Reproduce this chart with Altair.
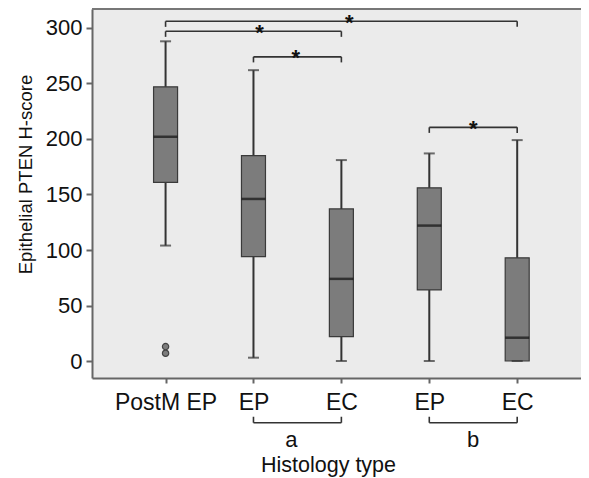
import altair as alt
import pandas as pd

# ---- data ----
positions = [0, 1, 2, 3, 4]
tick_labels = ["PostM EP", "EP", "EC", "EP", "EC"]
whisker_low = [104, 3, 0, 0, 0]
q1 = [161, 94, 22, 64, 0]
median = [202, 146, 74, 122, 21]
q3 = [247, 185, 137, 156, 93]
whisker_high = [288, 262, 181, 187, 199]

outlier_pos = [0, 0]
outlier_val = [13, 7]

# significance brackets: start, end, height, star position
br_start = [0, 0, 1, 3]
br_end = [4, 2, 2, 4]
br_y = [306, 297, 274, 210.5]
br_star_x = [2.09, 1.07, 1.48, 3.5]

# grouping brackets below the axis
grp_start = [1, 3]
grp_end = [2, 4]
grp_label = ["a", "b"]
grp_label_x = [1.43, 3.5]

y_ticks = [0, 50, 100, 150, 200, 250, 300]

FONT = "Liberation Sans"
XDOM = [-0.78, 4.669]
YDOM = [-15.3, 317.1]

box_df = pd.DataFrame(dict(pos=positions, lo=whisker_low, q1=q1, med=median,
                           q3=q3, hi=whisker_high))
out_df = pd.DataFrame(dict(pos=outlier_pos, val=outlier_val))
br_df = pd.DataFrame(dict(x1=br_start, x2=br_end, y=br_y, sx=br_star_x))
br_df["ys"] = br_df["y"] - 7.7
br_df["star"] = "*"
br_ends = pd.DataFrame(dict(
    x=br_start + br_end,
    y=br_y + br_y,
))
br_ends["y2"] = br_ends["y"] - 5

grp_y = -55.6
grp_df = pd.DataFrame(dict(x1=grp_start, x2=grp_end, lab=grp_label, lx=grp_label_x))
grp_df["y"] = grp_y
grp_df["ly"] = grp_y - 15.5
grp_ends = pd.DataFrame(dict(x=grp_start + grp_end))
grp_ends["y"] = grp_y
grp_ends["y2"] = grp_y + 5.4

label_expr = "[" + ",".join("'%s'" % s for s in tick_labels) + "][datum.value]"

xscale = alt.Scale(domain=XDOM, nice=False, zero=False)
yscale = alt.Scale(domain=YDOM, nice=False, zero=False)

xaxis = alt.Axis(values=positions, labelExpr=label_expr, title="Histology type",
                 titleX=236, titleY=87, titleBaseline="middle", titleFontSize=21.5,
                 titleFontWeight="normal", labelFontSize=23, tickSize=5,
                 labelPadding=19, labelBaseline="middle", labelFlush=False,
                 labelOverlap=False, labelAngle=0, grid=False,
                 domainColor="#666666", domainWidth=2, tickColor="#666666",
                 tickWidth=2, labelColor="#111111", titleColor="#111111")
yaxis = alt.Axis(values=y_ticks, format="d", title="Epithelial PTEN H-score",
                 titleX=-67, titleY=165, titleBaseline="middle", titleAngle=270,
                 titleFontSize=18.5, titleFontWeight="normal", labelFontSize=22,
                 tickSize=6, labelPadding=4, grid=False, domainColor="#666666",
                 domainWidth=2, tickColor="#666666", tickWidth=2,
                 labelColor="#111111", titleColor="#111111")

base = alt.Chart(box_df)

whiskers = base.mark_rule(color="#333333", strokeWidth=2).encode(
    x=alt.X("pos:Q", scale=xscale, axis=xaxis),
    y=alt.Y("lo:Q", scale=yscale, axis=yaxis),
    y2="hi:Q",
)
boxes = base.mark_bar(size=24, color="#7c7c7c", stroke="#3a3a3a",
                      strokeWidth=1.2).encode(
    x=alt.X("pos:Q", scale=xscale), y=alt.Y("q1:Q", scale=yscale), y2="q3:Q")
medians = base.mark_tick(orient="horizontal", size=24, thickness=2.5,
                         color="#111111").encode(
    x=alt.X("pos:Q", scale=xscale), y=alt.Y("med:Q", scale=yscale))
caps_hi = base.mark_tick(orient="horizontal", size=11, thickness=2,
                         color="#333333").encode(
    x=alt.X("pos:Q", scale=xscale), y=alt.Y("hi:Q", scale=yscale))
caps_lo = base.mark_tick(orient="horizontal", size=11, thickness=2,
                         color="#333333").encode(
    x=alt.X("pos:Q", scale=xscale), y=alt.Y("lo:Q", scale=yscale))
outliers = alt.Chart(out_df).mark_point(filled=True, size=40, fill="#7c7c7c",
                                        stroke="#444444", strokeWidth=1.2,
                                        opacity=1).encode(
    x=alt.X("pos:Q", scale=xscale), y=alt.Y("val:Q", scale=yscale))

br_lines = alt.Chart(br_df).mark_rule(color="#333333", strokeWidth=1.6).encode(
    x=alt.X("x1:Q", scale=xscale), x2="x2:Q", y=alt.Y("y:Q", scale=yscale))
br_ticks = alt.Chart(br_ends).mark_rule(color="#333333", strokeWidth=1.6).encode(
    x=alt.X("x:Q", scale=xscale), y=alt.Y("y:Q", scale=yscale), y2="y2:Q")
stars = alt.Chart(br_df).mark_text(fontSize=22, fontWeight="bold", font=FONT,
                                   color="#111111", baseline="alphabetic").encode(
    x=alt.X("sx:Q", scale=xscale), y=alt.Y("ys:Q", scale=yscale), text="star:N")

grp_lines = alt.Chart(grp_df).mark_rule(color="#333333", strokeWidth=1.6).encode(
    x=alt.X("x1:Q", scale=xscale), x2="x2:Q", y=alt.Y("y:Q", scale=yscale))
grp_ticks = alt.Chart(grp_ends).mark_rule(color="#333333", strokeWidth=1.6).encode(
    x=alt.X("x:Q", scale=xscale), y=alt.Y("y:Q", scale=yscale), y2="y2:Q")
grp_text = alt.Chart(grp_df).mark_text(fontSize=22, font=FONT, color="#111111",
                                       baseline="middle").encode(
    x=alt.X("lx:Q", scale=xscale), y=alt.Y("ly:Q", scale=yscale), text="lab:N")

top_border = alt.Chart(pd.DataFrame({"k": [0]})).mark_rule(
    color="#777777", strokeWidth=2).encode(y=alt.value(0))

chart = alt.layer(
    whiskers, boxes, medians, caps_hi, caps_lo, outliers,
    br_lines, br_ticks, stars, grp_lines, grp_ticks, grp_text, top_border,
).properties(
    width=489, height=369, autosize="none",
    padding={"left": 84, "top": 1, "right": 0, "bottom": 100},
).configure(background="white").configure_view(
    fill="#ebebeb", stroke=None
).configure_axis(labelFont=FONT, titleFont=FONT)

chart.save("out.html", embed_options={"renderer": "svg", "actions": False})
